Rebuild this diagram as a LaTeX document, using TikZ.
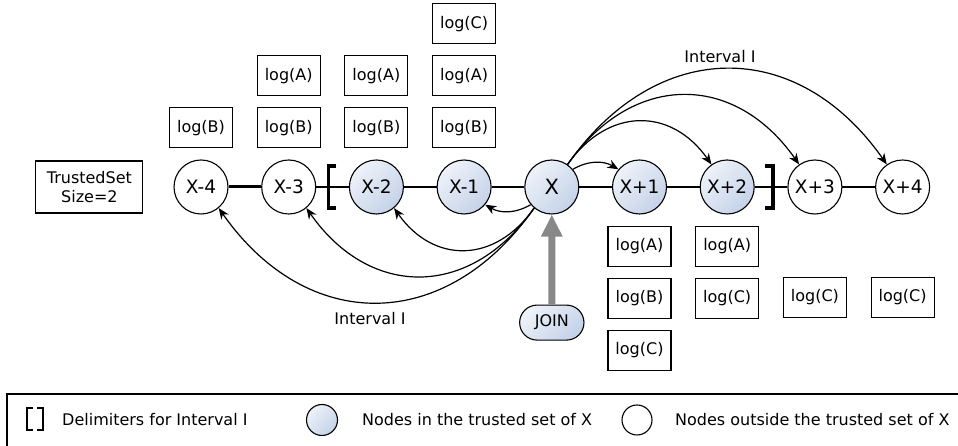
\documentclass[tikz,border=0pt]{standalone}
\usepackage{fontspec}
\setmainfont{DejaVu Sans}
\usetikzlibrary{positioning,arrows.meta,shapes.misc}
\definecolor{nodelight}{RGB}{238,242,249}
\definecolor{nodedark}{RGB}{196,210,232}
\definecolor{joingray}{RGB}{136,136,136}
\tikzset{
  peer/.style={
    circle, draw, line width=1.1pt,
    minimum size=54pt, inner sep=0pt,
    font=\fontsize{18.5}{21}\selectfont,
  },
  trusted peer/.style={
    peer, left color=nodelight, right color=nodedark, shading angle=45,
  },
  log box/.style={
    draw, line width=1.1pt,
    minimum width=63pt, minimum height=40pt, inner sep=0pt,
  },
  link/.style={
    -{Stealth[length=11pt,width=9pt]}, line width=1.2pt,
  },
  delim/.style={line width=3.5pt},
  legend text/.style={anchor=west, inner sep=0pt},
}

\begin{document}
\begin{tikzpicture}[x=1pt, y=1pt, node distance=11pt,
    font=\fontsize{16}{18.5}\selectfont]
        \useasboundingbox (0,0) rectangle (958,446);
        \clip (0,0) rectangle (958,446);

        \node [peer] (xm4) at (201,259) {X-4};
        \node [peer, right=32.6pt of xm4] (xm3) {X-3};
        \node [trusted peer, right=32.6pt of xm3] (xm2) {X-2};
        \node [trusted peer, right=32.6pt of xm2] (xm1) {X-1};
        \node [trusted peer, right=32.6pt of xm1, font=\fontsize{21}{24}\selectfont] (x) {X};
        \node [trusted peer, right=32.6pt of x] (xp1) {X+1};
        \node [trusted peer, right=32.6pt of xp1] (xp2) {X+2};
        \node [peer, right=32.6pt of xp2] (xp3) {X+3};
        \node [peer, right=32.6pt of xp3] (xp4) {X+4};

        \node [draw, line width=1.1pt, align=center, minimum width=107pt,
          minimum height=52pt, left=30pt of xm4] (tset) {TrustedSet\\Size=2};

        \draw [line width=3pt] (xm4) -- (xm3);
        \foreach \a/\b in {xm3/xm2, xm2/xm1, xm1/x, x/xp1, xp1/xp2, xp2/xp3, xp3/xp4}
          \draw [line width=1.2pt] (\a) -- (\b);

        \draw [delim] ([shift={(20pt,21pt)}]xm3.east) -| ([shift={(12pt,-21pt)}]xm3.east) -- ++(8pt,0);
        \draw [delim] ([shift={(10pt,21pt)}]xp2.east) -| ([shift={(18pt,-21pt)}]xp2.east) -- ++(-8pt,0);

        % logs held above the chain
        \node [log box, above=of xm4] (m4B) {log(B)};
        \node [log box, above=of xm3] (m3B) {log(B)};
        \node [log box, above=of m3B] (m3A) {log(A)};
        \node [log box, above=of xm2] (m2B) {log(B)};
        \node [log box, above=of m2B] (m2A) {log(A)};
        \node [log box, above=of xm1] (m1B) {log(B)};
        \node [log box, above=of m1B] (m1A) {log(A)};
        \node [log box, above=of m1A] (m1C) {log(C)};

        % logs held below the chain
        \node [log box, below=of xp1] (p1A) {log(A)};
        \node [log box, below=of p1A] (p1B) {log(B)};
        \node [log box, below=of p1B] (p1C) {log(C)};
        \node [log box, below=of xp2] (p2A) {log(A)};
        \node [log box, below=of p2A] (p2C) {log(C)};
        \node [log box, below=62pt of xp3] (p3C) {log(C)};
        \node [log box, below=62pt of xp4] (p4C) {log(C)};

        \draw [link] (x.40) to [bend left=30] (xp1.140);
        \foreach \t in {xp2, xp3, xp4}
          \draw [link] (x.55) to [out=55, in=125, looseness=1.25] (\t.125);
        \draw [link] (x.220) to [bend left=30] (xm1.-40);
        \foreach \t in {xm2, xm3, xm4}
          \draw [link] (x.230) to [out=235, in=-55, looseness=1.25] (\t.-50);

        \node (ivtop) at (720,389) {Interval I};
        \node (ivbot) at (370,127) {Interval I};

        \node [rounded rectangle, draw, line width=1.1pt, left color=nodelight,
          right color=nodedark, shading angle=45, minimum width=71pt,
          minimum height=35pt, below=90pt of x] (join) {JOIN};
        \draw [line width=7pt, joingray, -{Triangle[width=20pt,length=22pt]}] (join) -- (x);

        % legend
        \draw [line width=1.1pt] (7,52) rectangle (975,-30);
        \draw [line width=2.8pt] (33,38) -| (27,16) -- ++(6pt,0);
        \draw [line width=2.8pt] (37,38) -| (43,16) -- ++(-6pt,0);
        \node [legend text] (lgdelim) at (62,26) {Delimiters for Interval I};
        \node [trusted peer, minimum size=31pt] (lgin) at (322,26) {};
        \node [legend text] (lgintext) at (362,26) {Nodes in the trusted set of X};
        \node [peer, minimum size=30pt] (lgout) at (637,26) {};
        \node [legend text] (lgouttext) at (675,26) {Nodes outside the trusted set of X};
    \end{tikzpicture}
\end{document}
